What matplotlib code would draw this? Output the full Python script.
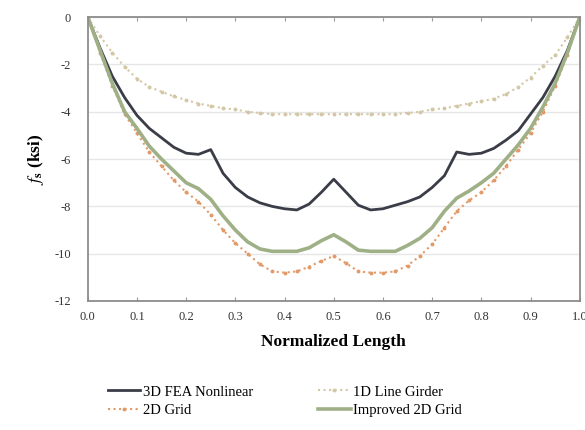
import matplotlib
matplotlib.use("Agg")
from matplotlib import pyplot as plt

plt.rcParams['font.family'] = ['Liberation Serif', 'DejaVu Serif']
plt.rcParams['mathtext.fontset'] = 'stix'

length = [0.0, 0.025, 0.05, 0.075, 0.1, 0.125, 0.15, 0.175, 0.2, 0.225,
          0.25, 0.275, 0.3, 0.325, 0.35, 0.375, 0.4, 0.425, 0.45, 0.475,
          0.5, 0.525, 0.55, 0.575, 0.6, 0.625, 0.65, 0.675, 0.7, 0.725,
          0.75, 0.775, 0.8, 0.825, 0.85, 0.875, 0.9, 0.925, 0.95, 0.975, 1.0]

fea_3d = [0, -1.3, -2.5, -3.4, -4.15, -4.7, -5.1, -5.5, -5.75, -5.8,
          -5.6, -6.6, -7.2, -7.6, -7.85, -8.0, -8.1, -8.15, -7.9, -7.4,
          -6.85, -7.4, -7.95, -8.15, -8.1, -7.95, -7.8, -7.6, -7.2, -6.7,
          -5.7, -5.8, -5.75, -5.55, -5.2, -4.8, -4.1, -3.4, -2.5, -1.4, 0]

line_girder_1d = [0, -0.8, -1.5, -2.1, -2.6, -2.95, -3.15, -3.35, -3.5, -3.65,
                  -3.75, -3.85, -3.9, -4.0, -4.05, -4.1, -4.1, -4.1, -4.1, -4.1,
                  -4.1, -4.1, -4.1, -4.1, -4.1, -4.1, -4.05, -4.0, -3.9, -3.85,
                  -3.75, -3.65, -3.55, -3.45, -3.25, -2.95, -2.55, -2.05, -1.6, -0.85, 0]

grid_2d = [0, -1.5, -2.9, -4.1, -4.9, -5.7, -6.3, -6.9, -7.4, -7.8,
           -8.35, -9.0, -9.55, -10.0, -10.45, -10.75, -10.8, -10.75, -10.55, -10.3,
           -10.1, -10.4, -10.75, -10.8, -10.8, -10.75, -10.5, -10.1, -9.6, -8.9,
           -8.2, -7.75, -7.4, -6.9, -6.3, -5.6, -4.9, -4.0, -2.9, -1.6, 0]

improved_2d = [0, -1.4, -2.8, -4.0, -4.7, -5.45, -6.0, -6.5, -7.0, -7.25,
               -7.7, -8.4, -9.0, -9.5, -9.8, -9.9, -9.9, -9.9, -9.75, -9.45,
               -9.2, -9.5, -9.85, -9.9, -9.9, -9.9, -9.65, -9.35, -8.9, -8.2,
               -7.65, -7.35, -7.0, -6.6, -6.0, -5.4, -4.7, -3.8, -2.8, -1.5, 0]

x_ticks = [0.0, 0.1, 0.2, 0.3, 0.4, 0.5, 0.6, 0.7, 0.8, 0.9, 1.0]
y_ticks = [0, -2, -4, -6, -8, -10, -12]

fig = plt.figure(figsize=(5.85, 4.3), dpi=100)
ax = fig.add_axes([0.150, 0.300, 0.841, 0.660])

ax.plot(length, fea_3d, color='#3a3d48', lw=2.0, label='3D FEA Nonlinear')
ax.plot(length, line_girder_1d, color='#d3c7a6', lw=1.5, ls=':',
        marker='o', ms=1.8, label='1D Line Girder')
ax.plot(length, grid_2d, color='#e29a68', lw=1.5, ls=':',
        marker='o', ms=1.8, label='2D Grid')
ax.plot(length, improved_2d, color='#9fb087', lw=2.6, label='Improved 2D Grid')

ax.set_xlim(0, 1)
ax.set_ylim(-12, 0)
ax.set_xticks(x_ticks)
ax.set_xticklabels([f'{t:.1f}' for t in x_ticks])
ax.set_yticks(y_ticks)
ax.set_yticklabels([str(t) for t in y_ticks])
ax.yaxis.grid(True, color='#e6e6e6', lw=1.0)
ax.set_axisbelow(True)
ax.tick_params(axis='x', direction='in', top=True, length=3, color='#999999',
               labelsize=9, pad=7, labelcolor='#333333')
ax.tick_params(axis='y', length=0, labelsize=9, pad=12, labelcolor='#333333')
for s in ax.spines.values():
    s.set_color('#8c8c8c')
    s.set_linewidth(1.3)

ax.set_xlabel('Normalized Length', fontsize=12.5, fontweight='bold', labelpad=8)
ax.set_ylabel(r'$\mathbf{\mathit{f}_s}$ (ksi)', fontsize=12.5, fontweight='bold', labelpad=6)

# column-wise fill: first column 3D FEA / 2D Grid, second 1D / Improved
handles, labels = ax.get_legend_handles_labels()
order = [0, 2, 1, 3]
fig.legend([handles[i] for i in order], [labels[i] for i in order],
           loc='lower center', bbox_to_anchor=(0.487, 0.0), ncol=2, frameon=False,
           fontsize=10.5, handlelength=2.2, handletextpad=0.2, columnspacing=4.5,
           labelspacing=0.35)

plt.savefig('out.png', dpi=100)
